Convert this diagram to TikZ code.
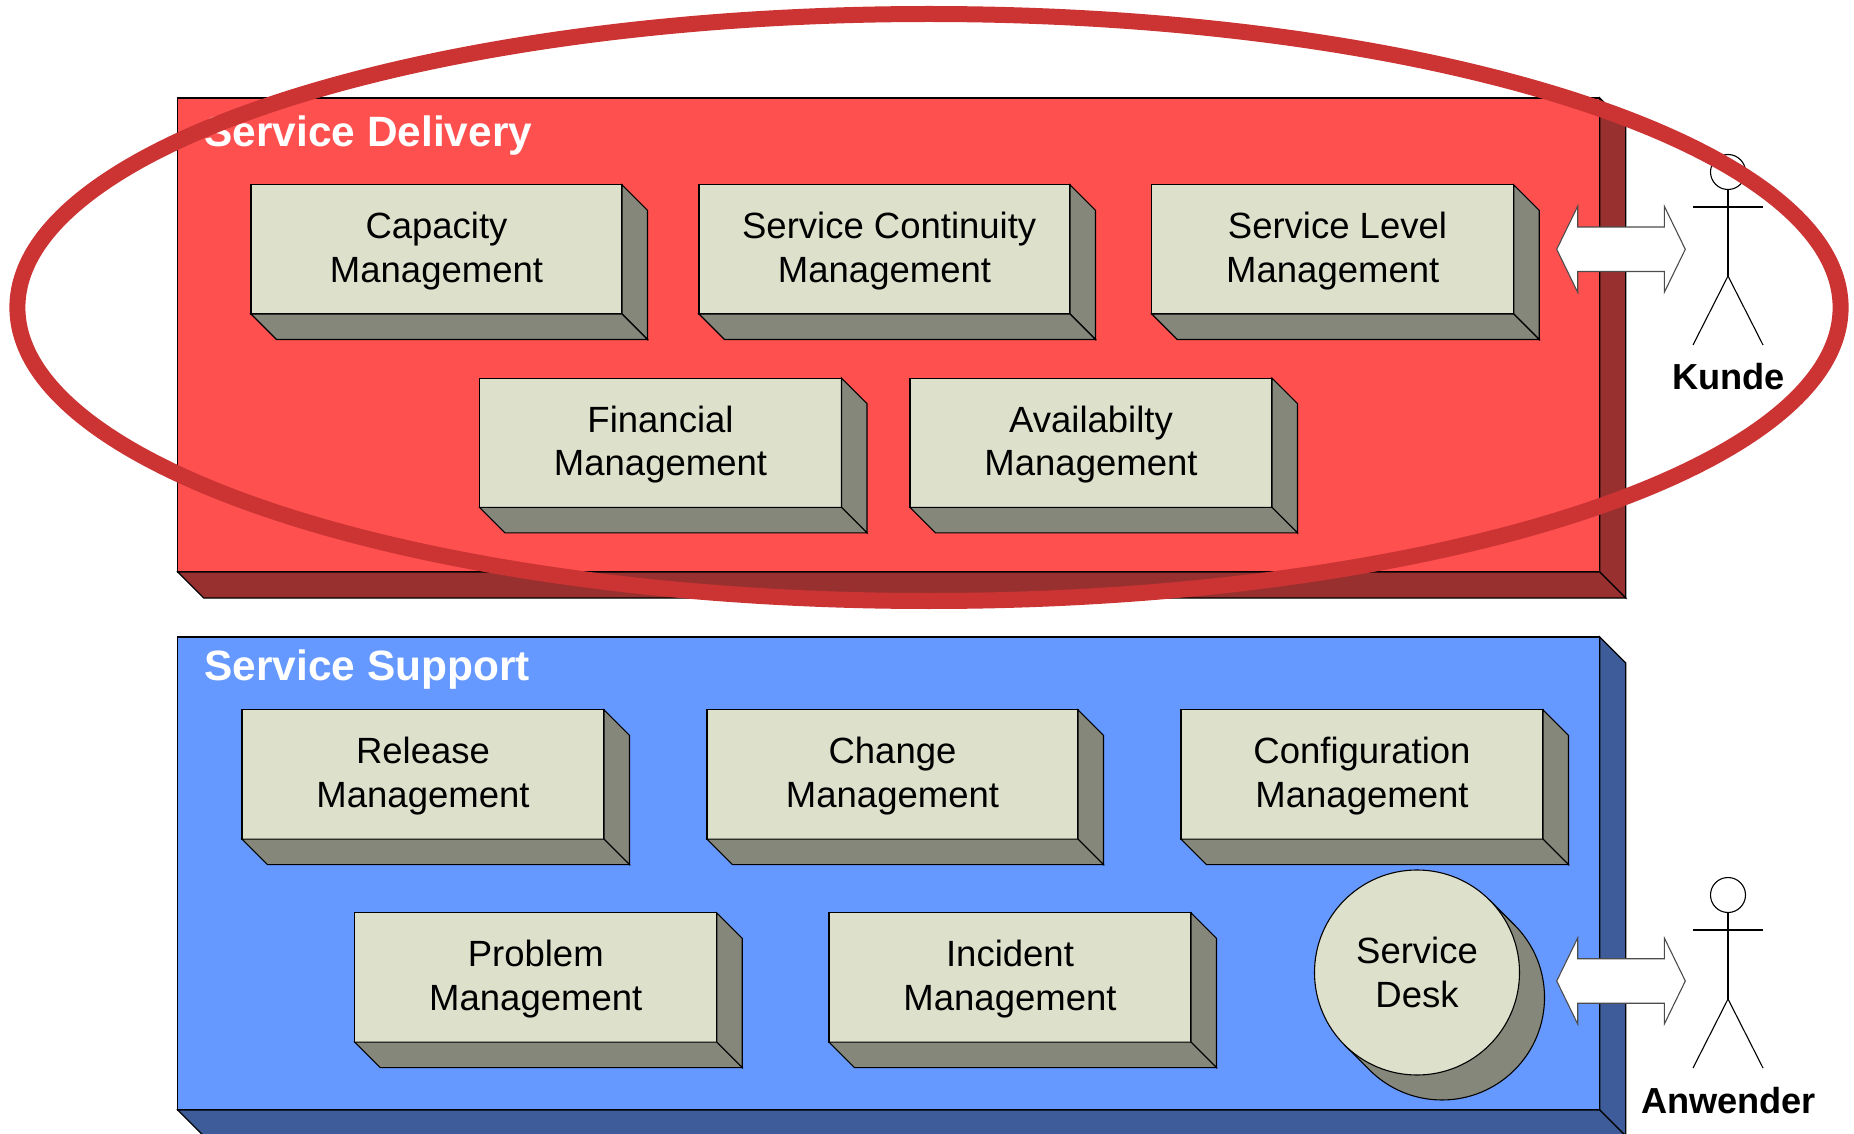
\documentclass[tikz,border=0pt]{standalone}
\usepackage{fontspec}
\setmainfont{Liberation Sans}
\usetikzlibrary{shapes.arrows}
\definecolor{deliv}{HTML}{FF5050}
\definecolor{delivdark}{HTML}{993030}
\definecolor{supp}{HTML}{6699FF}
\definecolor{suppdark}{HTML}{3D5C99}
\definecolor{face}{HTML}{DDE1CC}
\definecolor{facedark}{HTML}{85877A}
\definecolor{ring}{HTML}{CC3333}
\newcommand{\mgmt}[1]{\rule{0pt}{14.8pt}#1\\Management}
\begin{document}
\begin{tikzpicture}[x=0.5pt, y=-0.5pt, line width=0.55pt,
	panel/.style={draw,shape=rectangle,outer sep=0pt,inner sep=0pt,minimum width=711pt},
	quad/.style={draw,shape=rectangle,fill=face,outer sep=0pt,inner sep=0pt,minimum height=64.6pt,align=center,
		font=\fontsize{18.25}{21.7}\selectfont},
	wide/.style={quad,minimum width=185.5pt},
	narrow/.style={quad,minimum width=181pt},
	side/.style={draw,fill=facedark},
	title/.style={anchor=base west,inner sep=0pt,text=white,font=\fontsize{21.2}{25}\selectfont\bfseries},
	swap/.style={draw=black!70,fill=white,shape=double arrow,outer sep=0pt,inner xsep=0pt,inner ysep=10.85pt,
		minimum height=64.3pt,minimum width=42.5pt,double arrow head extend=10.4pt,double arrow tip angle=128},
	headc/.style={draw,shape=circle,inner sep=0pt,outer sep=0pt,minimum size=17.5pt}]
	\useasboundingbox (0, 0) rectangle (1854, 1134);
	\node[panel,fill=deliv,minimum height=237pt] (delivery) at (888.75, 335) {};
	\node[panel,fill=supp,minimum height=236.5pt] (support) at (888.75, 873.5) {};
	\foreach \pan/\col in {delivery/delivdark, support/suppdark} {
		\draw[fill=\col] (\pan.north east) -- ([shift={(26,26)}]\pan.north east) -- ([shift={(26,26)}]\pan.south east) -- (\pan.south east) -- cycle;
		\draw[fill=\col] (\pan.south west) -- ([shift={(26,26)}]\pan.south west) -- ([shift={(26,26)}]\pan.south east) -- (\pan.south east) -- cycle;
	}
	\node[title] (deliverytitle) at (204, 146.5) {Service Delivery};
	\node[title] (supporttitle) at (204, 680) {Service Support};
	\node[wide] (capacity) at (436.5, 249.4) {\mgmt{Capacity}};
	\node[wide] (continuity) at (884.5, 249.4) {\mgmt{\hspace*{4.7pt}Service Continuity}};
	\node[narrow] (level) at (1332.75, 249.4) {\mgmt{\hspace*{4.7pt}Service Level}};
	\node[narrow] (financial) at (660.5, 442.8) {\mgmt{Financial}};
	\node[narrow] (availability) at (1091, 442.8) {\mgmt{Availabilty}};
	\node[narrow] (release) at (423, 774.5) {\mgmt{Release}};
	\node[wide] (change) at (892.5, 774.5) {\mgmt{Change}};
	\node[narrow] (configuration) at (1362, 774.5) {\mgmt{Configuration}};
	\node[narrow] (problem) at (535.75, 977.5) {\mgmt{Problem}};
	\node[narrow] (incident) at (1010, 977.5) {\mgmt{Incident}};
	\foreach \n in {capacity,continuity,level,financial,availability,release,change,configuration,problem,incident} {
		\draw[side] (\n.north east) -- ([shift={(25.5,25.5)}]\n.north east) -- ([shift={(25.5,25.5)}]\n.south east) -- (\n.south east) -- cycle;
		\draw[side] (\n.south west) -- ([shift={(25.5,25.5)}]\n.south west) -- ([shift={(25.5,25.5)}]\n.south east) -- (\n.south east) -- cycle;
	}
	\draw[side] (1489.5, 900) -- (1514.5, 925) arc[start angle=-45, end angle=135, radius=102.5] -- (1344.5, 1045) -- cycle;
	\node[draw,shape=circle,fill=face,inner sep=0pt,outer sep=0pt,minimum size=102.5pt,align=center,
		font=\fontsize{18.25}{21.7}\selectfont] (desk) at (1417, 972.5) {Service\\Desk};
	\foreach \who/\txt/\yy/\ya in {kunde/Kunde/172/249.3, anwender/Anwender/895/981} {
		\node[swap] (\who arrow) at (1621, \ya) {};
		\node[headc] (\who head) at (1728, \yy) {};
		\coordinate (\who hip) at (1728, \yy+104);
		\coordinate (\who arml) at (1693, \yy+35);
		\coordinate (\who armr) at (1763, \yy+35);
		\coordinate (\who footl) at (1693, \yy+173);
		\coordinate (\who footr) at (1763, \yy+173);
		\draw (\who head) to (\who hip);
		\draw (\who arml) to (\who armr);
		\draw (\who hip) to (\who footl);
		\draw (\who hip) to (\who footr);
		\node[anchor=base,inner sep=0pt,font=\fontsize{18.1}{21}\selectfont\bfseries] (\who label) at (1728.5, \yy+218) {\txt};
	}
	\draw[ring,line width=8pt] (929, 307.5) ellipse [x radius=911.6, y radius=293.5];
\end{tikzpicture}
\end{document}
